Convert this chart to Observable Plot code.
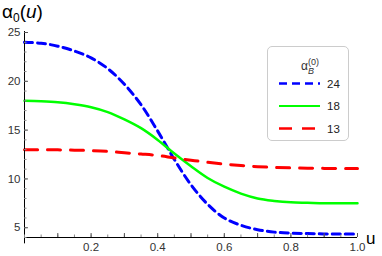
<!DOCTYPE html>
<html>
<head>
<meta charset="utf-8">
<script src="https://cdn.jsdelivr.net/npm/d3@7"></script>
<script src="https://cdn.jsdelivr.net/npm/@observablehq/plot@0.6"></script>
<style>
  html, body { margin: 0; padding: 0; background: #fff; }
  #wrap { position: relative; width: 382px; height: 256px; font-family: "Liberation Sans", Arial, sans-serif; }
  #wrap svg.plot { position: absolute; left: 0; top: 0; }
  .ov { position: absolute; white-space: nowrap; color: #000; }
</style>
</head>
<body>
<div id="wrap"></div>
<script>
// ---- data ----
const us = [0, 0.05, 0.10, 0.15, 0.20, 0.25, 0.30, 0.35, 0.40, 0.45, 0.50, 0.55, 0.60, 0.65, 0.70, 0.75, 0.80, 0.85, 0.90, 0.95, 1.00];
const alpha24 = [24.0, 23.9, 23.6, 23.1, 22.4, 21.3, 19.7, 17.6, 14.9, 12.0, 9.4, 7.4, 6.0, 5.25, 4.8, 4.55, 4.45, 4.4, 4.37, 4.35, 4.35];
const alpha18 = [18.0, 17.95, 17.85, 17.65, 17.35, 16.85, 16.1, 15.2, 14.0, 12.6, 11.3, 10.1, 9.2, 8.5, 8.0, 7.75, 7.6, 7.55, 7.5, 7.5, 7.5];
const alpha13 = [13.0, 13.0, 12.98, 12.95, 12.9, 12.82, 12.68, 12.55, 12.4, 12.15, 11.92, 11.7, 11.52, 11.38, 11.26, 11.18, 11.13, 11.1, 11.08, 11.07, 11.07];
const seriesNames = ["24", "18", "13"];
const xTickLabels = [0.2, 0.4, 0.6, 0.8, 1.0];
const yTickLabels = [5, 10, 15, 20, 25];

const seriesValues = [alpha24, alpha18, alpha13];
const styles = [
  {stroke: "#0000ff", strokeWidth: 3, strokeDasharray: "8,5"},
  {stroke: "#00ff00", strokeWidth: 2.5, strokeDasharray: null},
  {stroke: "#ff0000", strokeWidth: 3, strokeDasharray: "13,10"}
];

const tables = seriesValues.map((vals, i) => us.map((u, j) => ({u, v: vals[j], s: seriesNames[i]})));

const xMinor = d3.range(0, 1.0001, 0.05).map(d => +d.toFixed(2));
const xMajor = d3.range(0.1, 1.0001, 0.1).map(d => +d.toFixed(1));
const yMinor = d3.range(4, 25.5, 1);

const plot = Plot.plot({
  width: 382,
  height: 256,
  marginLeft: 24,
  marginRight: 25,
  marginTop: 32,
  marginBottom: 19,
  x: {domain: [0, 1], axis: null, label: null},
  y: {domain: [4, 25], axis: null, label: null},
  style: {fontFamily: '"Liberation Sans", Arial, sans-serif', background: "transparent"},
  marks: [
    ...tables.map((t, i) => Plot.line(t, {x: "u", y: "v", stroke: styles[i].stroke, strokeWidth: styles[i].strokeWidth, strokeDasharray: styles[i].strokeDasharray, curve: "catmull-rom"})),
    // axes lines
    Plot.ruleY([4], {x1: 0, x2: 1.0, stroke: "#000", strokeWidth: 1}),
    Plot.ruleX([0], {y1: 3.35, y2: 25.1, stroke: "#000", strokeWidth: 1}),
    // minor ticks
    Plot.axisX({anchor: "bottom", label: null, ticks: xMinor, tickSize: -2.5, tickFormat: () => "", stroke: "#888"}),
    Plot.axisX({anchor: "bottom", label: null, ticks: xMajor, tickSize: -4, tickFormat: () => "", stroke: "#555"}),
    Plot.axisY({anchor: "left", label: null, ticks: yMinor, tickSize: -2.5, tickFormat: () => "", stroke: "#888"}),
    Plot.axisY({anchor: "left", label: null, ticks: yTickLabels, tickSize: -4, tickFormat: () => "", stroke: "#555"}),
    // labels
    Plot.axisX({anchor: "bottom", label: null, ticks: xTickLabels, tickSize: 0, tickPadding: 5, tickFormat: d => d.toFixed(1), fontSize: 11.5, fill: "#333"}),
    Plot.axisY({anchor: "left", label: null, ticks: yTickLabels, tickSize: 0, tickPadding: 4, tickFormat: d => String(d), fontSize: 11.5, fill: "#333"})
  ]
});
plot.classList.add("plot");
const wrap = document.getElementById("wrap");
wrap.appendChild(plot);

// title
const title = document.createElement("div");
title.className = "ov";
title.style.left = "2px";
title.style.top = "1px";
title.style.fontSize = "19px";
title.innerHTML = 'α<span style="font-size:12px;position:relative;top:4px">0</span>(<i>u</i>)';
wrap.appendChild(title);

// x label
const xl = document.createElement("div");
xl.className = "ov";
xl.style.left = "366px";
xl.style.top = "229px";
xl.style.fontSize = "17px";
xl.textContent = "u";
wrap.appendChild(xl);

// legend
const leg = document.createElement("div");
leg.className = "ov";
leg.style.left = "267px";
leg.style.top = "46px";
leg.style.width = "82px";
leg.style.height = "95px";
leg.style.border = "1px solid #cccccc";
leg.style.borderRadius = "5px";
leg.style.boxSizing = "border-box";
leg.style.background = "#fff";
wrap.appendChild(leg);

const legSvg = d3.create("svg").attr("width", 82).attr("height", 95).style("position", "absolute").style("left", "0px").style("top", "0px");
const lt = legSvg.append("text").attr("x", 33).attr("y", 23).attr("font-size", 12).attr("fill", "#333");
lt.append("tspan").text("α");
lt.append("tspan").attr("font-size", 9).attr("font-style", "italic").attr("dy", 4).text("B");
lt.append("tspan").attr("font-size", 9).attr("dy", -9).attr("dx", -6).text("(0)");
seriesNames.forEach((name, i) => {
  const y = 36.5 + i * 22.5;
  legSvg.append("line").attr("x1", 11).attr("x2", 52).attr("y1", y).attr("y2", y)
    .attr("stroke", styles[i].stroke).attr("stroke-width", styles[i].strokeWidth - 0.5)
    .attr("stroke-dasharray", styles[i].strokeDasharray);
  legSvg.append("text").attr("x", 59).attr("y", y + 4).attr("font-size", 11.5).attr("fill", "#222").text(name);
});
leg.appendChild(legSvg.node());
</script>
</body>
</html>
